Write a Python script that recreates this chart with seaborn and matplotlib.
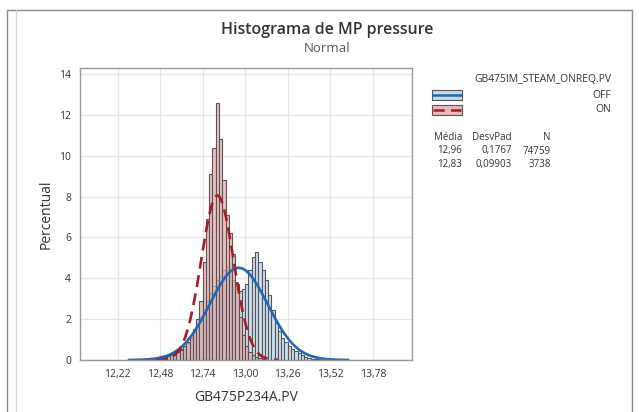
import numpy as np
import pandas as pd
import matplotlib
matplotlib.use("Agg")
import matplotlib.pyplot as plt
import seaborn as sns
from matplotlib.patches import Rectangle
from matplotlib.lines import Line2D

# ---- data (bin centers, bin width 0.02, heights in percent) ----
off_centers = [12.41, 12.43, 12.45, 12.47, 12.49, 12.51, 12.53, 12.55, 12.57, 12.59,
               12.61, 12.63, 12.65, 12.67, 12.69, 12.71, 12.73, 12.75, 12.77, 12.79,
               12.81, 12.83, 12.85, 12.87, 12.89, 12.91, 12.93, 12.95, 12.97, 12.99,
               13.01, 13.03, 13.05, 13.07, 13.09, 13.11, 13.13, 13.15, 13.17, 13.19,
               13.21, 13.23, 13.25, 13.27, 13.29, 13.31, 13.33, 13.35, 13.37, 13.39,
               13.41, 13.43, 13.45, 13.47]
off_pct = [0.05, 0.08, 0.12, 0.15, 0.18, 0.2, 0.25, 0.3, 0.35, 0.45,
           0.55, 0.7, 0.85, 1.1, 1.4, 1.7, 2.1, 2.5, 2.9, 3.3,
           3.6, 3.9, 4.1, 4.4, 4.6, 4.4, 3.9, 3.5, 3.4, 3.5,
           3.7, 4.4, 5.06, 5.31, 4.82, 4.41, 3.92, 3.2, 2.45, 1.8,
           1.4, 1.1, 0.9, 0.7, 0.55, 0.42, 0.33, 0.25, 0.15, 0.1,
           0.07, 0.05, 0.03, 0.02]

on_centers = [12.45, 12.47, 12.49, 12.51, 12.53, 12.55, 12.57, 12.59, 12.61, 12.63,
              12.65, 12.67, 12.69, 12.71, 12.73, 12.75, 12.77, 12.79, 12.81, 12.83,
              12.85, 12.87, 12.89, 12.91, 12.93, 12.95, 12.97, 12.99, 13.01, 13.03,
              13.05, 13.07, 13.09, 13.11]
on_pct = [0.08, 0.1, 0.12, 0.15, 0.2, 0.25, 0.3, 0.4, 0.5, 0.7,
          0.9, 1.2, 1.5, 2.0, 2.9, 4.8, 6.9, 9.1, 10.4, 12.6,
          10.8, 8.8, 7.1, 6.2, 5.2, 3.7, 2.1, 1.2, 0.7, 0.4,
          0.25, 0.15, 0.1, 0.06]

groups = ["OFF", "ON"]
means = [12.96, 12.83]
sds = [0.1767, 0.09903]
counts = [74759, 3738]
mean_lbl = ["12,96", "12,83"]
sd_lbl = ["0,1767", "0,09903"]
n_lbl = ["74759", "3738"]

xticks = [12.22, 12.48, 12.74, 13.00, 13.26, 13.52, 13.78]
xtick_lbl = ["12,22", "12,48", "12,74", "13,00", "13,26", "13,52", "13,78"]
yticks = [0, 2, 4, 6, 8, 10, 12, 14]

BW = 0.02

sns.set_style("white")
plt.rcParams["font.family"] = ["Open Sans", "DejaVu Sans"]

fig = plt.figure(figsize=(6.39, 4.12), dpi=100)
ax = fig.add_axes([80/639, 52/412, 332/639, 292/412])

off_df = pd.DataFrame({"x": off_centers, "w": off_pct})
on_df = pd.DataFrame({"x": on_centers, "w": on_pct})

sns.histplot(data=off_df, x="x", weights="w", binwidth=BW, binrange=(12.40, 13.48),
             stat="count", color="#c5daf0", alpha=0.85, edgecolor="#555555",
             linewidth=0.8, ax=ax)
sns.histplot(data=on_df, x="x", weights="w", binwidth=BW, binrange=(12.44, 13.12),
             stat="count", color="#e6a8a8", alpha=0.72, edgecolor="#555555",
             linewidth=0.8, ax=ax)

line_cols = ["#1f68b4", "#a81c22"]
styles = ["-", (0, (4.5, 2.5))]
for m, s, c, ls in zip(means, sds, line_cols, styles):
    xs = np.linspace(m - 3.8 * s, m + 3.8 * s, 300)
    ys = 100 * BW * np.exp(-0.5 * ((xs - m) / s) ** 2) / (s * np.sqrt(2 * np.pi))
    sns.lineplot(x=xs, y=ys, color=c, lw=1.9, linestyle=ls, ax=ax)

ax.set_xlim(11.99, 14.02)
ax.set_ylim(0, 14.3)
ax.set_xticks(xticks)
ax.set_xticklabels(xtick_lbl)
ax.set_yticks(yticks)
ax.grid(True, color="#e6e6e6", lw=0.9)
ax.set_axisbelow(True)
for sp in ax.spines.values():
    sp.set_color("#9a9a9a")
    sp.set_linewidth(1.0)
ax.tick_params(axis="both", labelsize=7.5, colors="#333333", length=3, width=0.8,
               color="#8a8a8a")
ax.set_xlabel("GB475P234A.PV", fontsize=10, color="#333333", labelpad=7)
ax.set_ylabel("Percentual", fontsize=10, color="#333333", labelpad=4)

# titles
fig.text(327/639, 1 - 30/412, "Histograma de MP pressure", ha="center", va="center",
         fontsize=11.5, color="#333333", fontweight="semibold")
fig.text(327/639, 1 - 48/412, "Normal", ha="center", va="center",
         fontsize=9.5, color="#555555")

# outer frame
fig.add_artist(Rectangle((7/639, -0.05), 625/639, 1.05 - 10/412,
                         transform=fig.transFigure, fill=False,
                         edgecolor="#8c8c8c", lw=1.0))
fig.add_artist(Line2D([16/639, 16/639], [0, 1 - 10/412], transform=fig.transFigure,
                      color="#d8d8d8", lw=0.8))

# legend
def fx(px):
    return px / 639
def fy(py):
    return 1 - py / 412

fig.text(fx(611), fy(80), "GB475IM_STEAM_ONREQ.PV", ha="right", va="center",
         fontsize=7.5, color="#333333")
fills = ["#c5daf0", "#eab8b8"]
for i, (g, fc, lc, ls) in enumerate(zip(groups, fills, line_cols, styles)):
    yc = 95 + i * 15
    fig.add_artist(Rectangle((fx(432), fy(yc + 5)), 30/639, 10/412,
                             transform=fig.transFigure, facecolor=fc,
                             edgecolor="#555555", lw=0.8))
    fig.add_artist(Line2D([fx(433), fx(461)], [fy(yc), fy(yc)],
                          transform=fig.transFigure, color=lc, lw=1.8, linestyle=ls))
    fig.text(fx(611), fy(yc), g, ha="right", va="center", fontsize=7.5, color="#333333")

fig.text(fx(462), fy(137), "Média", ha="right", va="center", fontsize=7, color="#333333")
fig.text(fx(512), fy(137), "DesvPad", ha="right", va="center", fontsize=7, color="#333333")
fig.text(fx(551), fy(137), "N", ha="right", va="center", fontsize=7, color="#333333")
for i in range(2):
    yc = 151 + i * 14
    fig.text(fx(462), fy(yc), mean_lbl[i], ha="right", va="center", fontsize=7, color="#333333")
    fig.text(fx(512), fy(yc), sd_lbl[i], ha="right", va="center", fontsize=7, color="#333333")
    fig.text(fx(551), fy(yc), n_lbl[i], ha="right", va="center", fontsize=7, color="#333333")

fig.savefig("out.png", dpi=100)
